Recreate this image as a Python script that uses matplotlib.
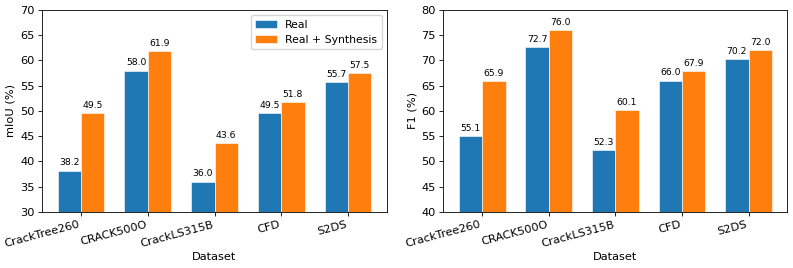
import numpy as np
import matplotlib
matplotlib.use("Agg")
import matplotlib.pyplot as plt

datasets = ["CrackTree260", "CRACK500O", "CrackLS315B", "CFD", "S2DS"]
miou_real = [38.2, 58.0, 36.0, 49.5, 55.7]
miou_synth = [49.5, 61.9, 43.6, 51.8, 57.5]
f1_real = [55.1, 72.7, 52.3, 66.0, 70.2]
f1_synth = [65.9, 76.0, 60.1, 67.9, 72.0]

fs = 8.2  # base font size

fig = plt.figure(figsize=(7.93, 2.68), dpi=100)
ax1 = fig.add_axes([0.053, 0.209, 0.435, 0.754])
ax2 = fig.add_axes([0.559, 0.209, 0.434, 0.754])

x = np.arange(len(datasets))
w = 0.35


def draw(ax, real, synth, ylabel, ylim, legend=False):
    b1 = ax.bar(x - w / 2, real, w, label="Real", color="#1f77b4",
                edgecolor="white", linewidth=0.4)
    b2 = ax.bar(x + w / 2, synth, w, label="Real + Synthesis", color="#ff7f0e",
                edgecolor="white", linewidth=0.4)
    for bars in (b1, b2):
        for b in bars:
            ax.annotate(f"{b.get_height():.1f}",
                        (b.get_x() + b.get_width() / 2, b.get_height()),
                        xytext=(0, 2.3), textcoords="offset points",
                        ha="center", va="bottom", fontsize=6.7)
    ax.set_ylim(*ylim)
    ax.set_xticks(x)
    ax.set_xticklabels(datasets, rotation=15, ha="right", fontsize=fs)
    ax.tick_params(axis="y", labelsize=fs)
    ax.tick_params(length=2.7, width=0.6, pad=2.7)
    for s in ax.spines.values():
        s.set_linewidth(0.6)
    ax.set_xlabel("Dataset", fontsize=fs, labelpad=2)
    ax.set_ylabel(ylabel, fontsize=fs, labelpad=3)
    if legend:
        ax.legend(fontsize=7.8)


draw(ax1, miou_real, miou_synth, "mIoU (%)", (30, 70), legend=True)
draw(ax2, f1_real, f1_synth, "F1 (%)", (40, 80))

fig.savefig("out.png", dpi=100)
